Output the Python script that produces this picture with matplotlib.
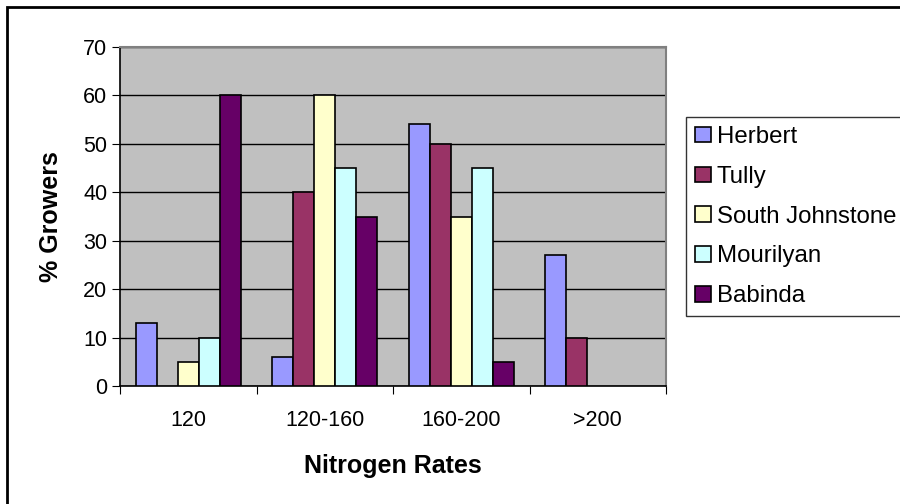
import numpy as np
import matplotlib
matplotlib.use("Agg")
import matplotlib.pyplot as plt
from matplotlib.patches import Rectangle

plt.rcParams['font.family'] = ['Liberation Sans', 'DejaVu Sans']

# data
categories = ['120', '120-160', '160-200', '>200']
regions = ['Herbert', 'Tully', 'South Johnstone', 'Mourilyan', 'Babinda']
herbert = [13, 6, 54, 27]
tully = [0, 40, 50, 10]
south_johnstone = [5, 60, 35, 0]
mourilyan = [10, 45, 45, 0]
babinda = [60, 35, 5, 0]
series = [herbert, tully, south_johnstone, mourilyan, babinda]
colors = ['#9999FF', '#993366', '#FFFFCC', '#CCFFFF', '#660066']

fig = plt.figure(figsize=(9, 5.04), dpi=100)
ax = fig.add_axes([120 / 900, 1 - 386 / 504, 546 / 900, 339 / 504])
ax.set_facecolor('#C0C0C0')

# Excel style: 5 bars + 150% gap per category
width = 1 / 6.5
x = np.arange(len(categories))
handles = []
for i, (name, vals) in enumerate(zip(regions, series)):
    offs = (i - 2) * width
    vals = np.array(vals, dtype=float)
    mask = vals > 0
    b = ax.bar(x[mask] + offs, vals[mask], width=width, color=colors[i],
               edgecolor='black', linewidth=1.2, zorder=3, label=name)
    handles.append(b)

ax.set_xlim(-0.5, len(categories) - 0.5)
ax.set_ylim(0, 70)
ax.set_yticks(range(0, 71, 10))
ax.yaxis.grid(True, color='black', linewidth=1, zorder=1)
ax.set_axisbelow(True)

ax.set_xticks(np.arange(-0.5, len(categories)), minor=False)
ax.set_xticklabels([])
ax.set_xticks(x, minor=True)
ax.set_xticklabels(categories, minor=True)
ax.tick_params(axis='x', which='minor', length=0, pad=17, labelsize=15.5)
ax.tick_params(axis='x', which='major', length=6, direction='out', color='black')
ax.tick_params(axis='y', length=6, direction='out', labelsize=15.5, pad=3)

for s in ['top', 'right']:
    ax.spines[s].set_color('#808080')
    ax.spines[s].set_linewidth(1.5)
for s in ['left', 'bottom']:
    ax.spines[s].set_color('black')
    ax.spines[s].set_linewidth(1.2)

ax.set_ylabel('% Growers', fontsize=18, fontweight='bold', labelpad=15)
ax.set_xlabel('Nitrogen Rates', fontsize=18, fontweight='bold', labelpad=17)

leg = fig.legend(handles=handles, labels=regions, loc='upper left',
                 bbox_to_anchor=(686 / 900, 1 - 117 / 504), fontsize=17.3,
                 frameon=True, fancybox=False, edgecolor='black',
                 handlelength=0.66, handleheight=0.62, handletextpad=0.25,
                 labelspacing=0.74, borderpad=0.38, borderaxespad=0)
leg.get_frame().set_linewidth(1)

# chart border: starts a few px in, runs off the right and bottom edges
fig.patches.append(Rectangle((7 / 900, -0.05), 1.0, 1 - 7 / 504 + 0.05,
                             transform=fig.transFigure, fill=False,
                             edgecolor='black', linewidth=2))

fig.savefig('out.png', dpi=100)
